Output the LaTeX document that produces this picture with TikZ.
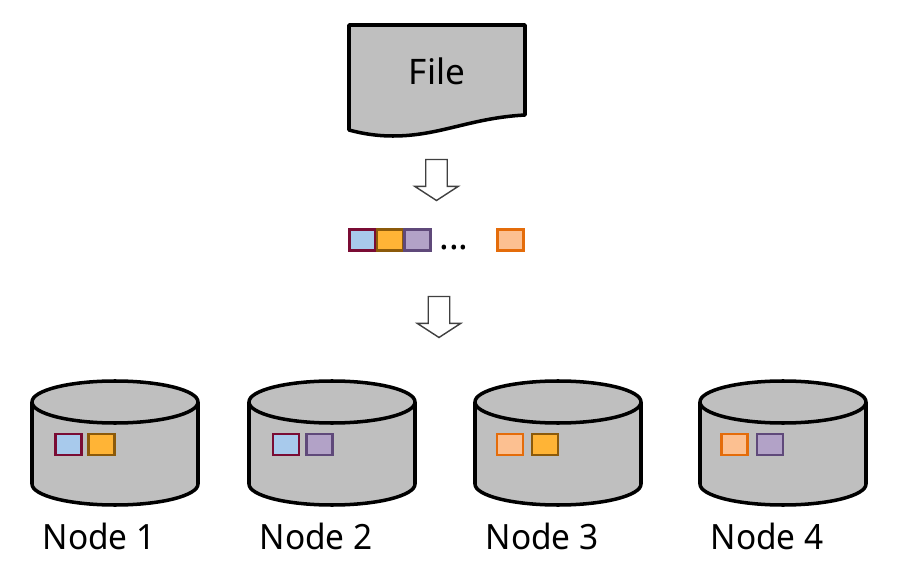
\documentclass[tikz,border=0pt]{standalone}
\usepackage{fontspec}
\setmainfont{Noto Sans}
\newfontfamily\nodefont[FakeStretch=0.96]{Noto Sans}
\usetikzlibrary{shapes.arrows}
\definecolor{shapegray}{RGB}{191,191,191}
\definecolor{blockblue}{RGB}{168,202,236}
\definecolor{blockamber}{RGB}{255,180,54}
\definecolor{blockviolet}{RGB}{178,162,199}
\definecolor{blocksalmon}{RGB}{252,192,145}
\definecolor{edgemaroon}{RGB}{122,12,52}
\definecolor{edgebrown}{RGB}{140,90,10}
\definecolor{edgeviolet}{RGB}{95,73,122}
\definecolor{edgeorange}{RGB}{228,108,10}
\tikzset{
    block/.style={draw,rectangle,line width=0.62pt,minimum width=0.26cm,minimum height=0.21cm,inner sep=0pt},
    blocka/.style={block,fill=blockblue,draw=edgemaroon},
    blockb/.style={block,fill=blockamber,draw=edgebrown},
    blockc/.style={block,fill=blockviolet,draw=edgeviolet},
    blockd/.style={block,fill=blocksalmon,draw=edgeorange},
    storage/.pic={
        \draw[line width=1pt,fill=shapegray] (-83,41) -- (-83,-41) arc[start angle=180,end angle=360,x radius=83,y radius=21] -- (83,41);
        \draw[line width=1pt,fill=shapegray] (0,41) ellipse[x radius=83,y radius=21];
    },
    flow/.style={draw=black!75,fill=white,single arrow,shape border rotate=270,line width=0.4pt,inner sep=0.1cm,minimum width=0.42cm,minimum height=0.41cm,single arrow head extend=0.11cm,single arrow tip angle=114,outer sep=0pt},
    caption/.style={font=\nodefont\fontsize{9.9}{12}\selectfont,inner sep=0pt,anchor=base west},
}
\begin{document}
\begin{tikzpicture}[x=0.01cm,y=0.01cm]
    \useasboundingbox (0,0) rectangle (902,569);

    % File
    \draw[line width=1pt,line join=round,fill=shapegray] (349,544) -- (525,544) -- (525,454)
        .. controls (470,451) and (440,433) .. (393,433)
        .. controls (375,433) and (360,436) .. (349,439) -- cycle;
    \node[font=\fontsize{10}{12}\selectfont,inner sep=0pt] (file) at (437,498) {File};

    % Arrows
    \node[flow] (arrowtop) at (436.5,392.5) {};
    \node[flow] (arrowbottom) at (439,255.5) {};

    % Stream of blocks
    \node[blocka] (s1) at (362.5,329) {};
    \node[blockb] (s2) at (390,329) {};
    \node[blockc] (s3) at (417.5,329) {};
    \node[font=\fontsize{10.3}{12}\selectfont,inner sep=0pt,anchor=base] (dots) at (454,320) {...};
    \node[blockd] (s4) at (510.5,329) {};

    % Nodes
    \pic at (115,126) {storage};
    \pic at (332,126) {storage};
    \pic at (558,126) {storage};
    \pic at (783,126) {storage};

    \node[blocka] (n1a) at (68.5,124.5) {};
    \node[blockb] (n1b) at (101.5,124.5) {};
    \node[blocka] (n2a) at (286,124.5) {};
    \node[blockc] (n2b) at (319.5,124.5) {};
    \node[blockd] (n3a) at (510,124.5) {};
    \node[blockb] (n3b) at (545,124.5) {};
    \node[blockd] (n4a) at (734.5,124.5) {};
    \node[blockc] (n4b) at (770,124.5) {};

    \node[caption] (l1) at (42,20) {Node 1};
    \node[caption] (l2) at (259,20) {Node 2};
    \node[caption] (l3) at (485,20) {Node 3};
    \node[caption] (l4) at (710,20) {Node 4};
\end{tikzpicture}
\end{document}
